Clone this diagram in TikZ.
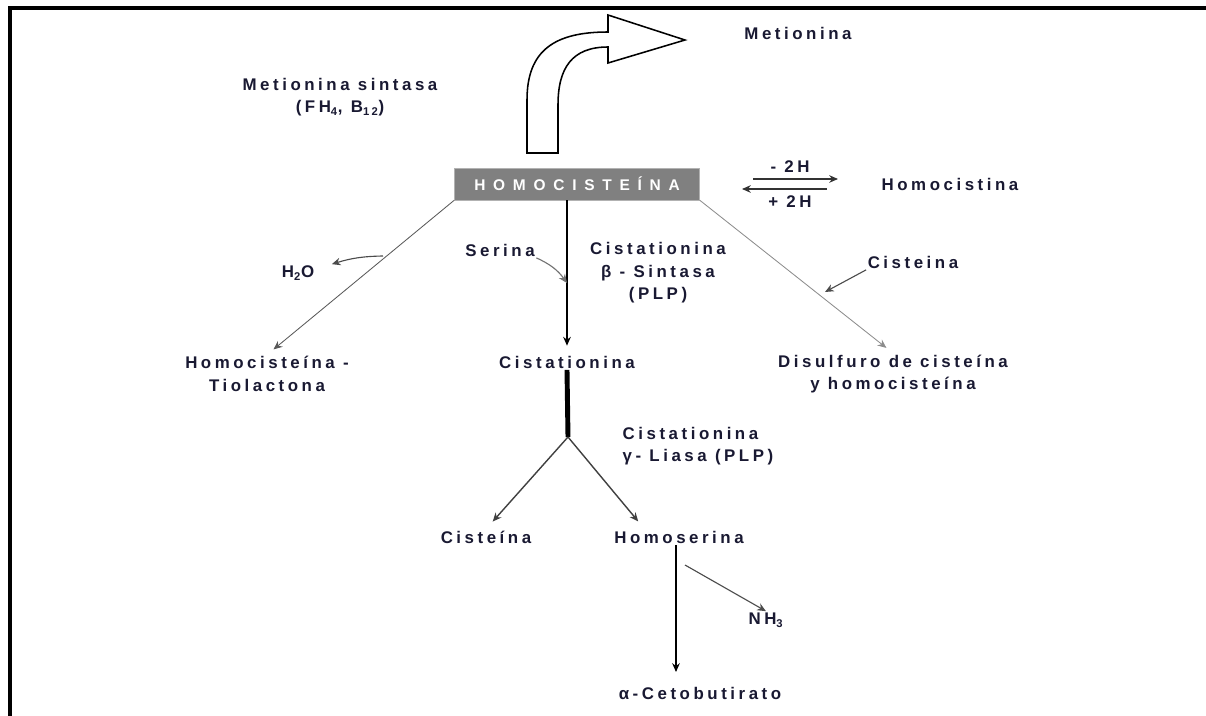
\documentclass[tikz,border=0pt]{standalone}
\usepackage{fontspec}
\setmainfont{Liberation Sans}
\newfontfamily\sprfont{Liberation Sans}[LetterSpace=21]
\newfontfamily\boxfont{Liberation Sans}[LetterSpace=50]
\usetikzlibrary{arrows.meta}

\begin{document}
\begin{tikzpicture}[x=0.025cm,y=-0.025cm,
  lbl/.style={text=TXTdark, inner sep=1pt, align=center,
    font=\sprfont\bfseries\fontsize{12}{16}\selectfont},
  homobox/.style={fill=HCgray, draw=gray!60, minimum width=6.125cm, minimum height=0.8cm,
    inner sep=0pt, text=white, font=\boxfont\bfseries\fontsize{11}{12}\selectfont},
  tip/.style={-{Stealth[length=2.2mm,width=1.9mm]}},
  thinarr/.style={tip, draw=black!65, line width=0.6pt},
  sidearr/.style={tip, draw=black!70, line width=0.8pt},
  mainarr/.style={tip, draw=black, line width=1.4pt},
  forkarr/.style={tip, draw=black!75, line width=1pt}]
\definecolor{TXTdark}{RGB}{25,25,50}
\definecolor{HCgray}{RGB}{128,128,128}

\useasboundingbox (0,0) rectangle (1206,716);
\draw[line width=0.1cm] (10,716) -- (10,8.5) -- (1206,8.5);

% ======================= OBEN: HOMOCISTEINA / METIONINA =======================
\node[homobox] (homo) at (577,184) {HOMOCISTEÍNA};
\node[lbl] (metio) at (798,33) {Metionina};
\node[lbl] (msint) at (340,97) {Metionina sintasa\\(FH\textsubscript{4}, B\textsubscript{12})};
\node[lbl] (hcist) at (950,184) {Homocistina};

% Hohlpfeil zur Metionina
\draw[line width=1.1pt, fill=white]
  (527,153) -- (527,100) .. controls (527,50) and (555,32) .. (608,32)
  -- (608,15) -- (685,40) -- (608,63) -- (608,47)
  .. controls (572,47) and (558,68) .. (558,105) -- (558,153) -- cycle;

% Gleichgewicht
\coordinate (eqa) at (753,179);
\coordinate (eqb) at (838,179);
\coordinate (eqc) at (827,189);
\coordinate (eqd) at (742,189);
\draw[tip, line width=1pt, black!80] (eqa) -- (eqb);
\draw[tip, line width=1pt, black!80] (eqc) -- (eqd);
\node[lbl] (minus) at (790,167) {- 2H};
\node[lbl] (plus) at (790,202) {+ 2H};

% ======================= MITTE: DREI WEGE =======================
\node[lbl] (tiol) at (267,374) {Homocisteína -\\Tiolactona};
\node[lbl] (cist) at (567,362) {Cistationina};
\node[lbl] (disulf) at (893,374) {Disulfuro de cisteína\\y homocisteína};

\draw[thinarr, shorten >=6pt] (homo.south west) -- (tiol.north);
\draw[mainarr, shorten >=6pt] (homo.south -| cist.north) -- (cist.north);
\draw[thinarr, draw=black!45, shorten >=6pt] (homo.south east) -- (disulf.north);

% Nebenpfeile
\node[lbl] (h2o) at (298,273) {H\textsubscript{2}O};
\node[lbl] (serina) at (500,250) {Serina};
\node[lbl] (cysin) at (913,262) {Cisteina};
\node[lbl] (cbs) at (658,273) {Cistationina\\β - Sintasa\\(PLP)};

\coordinate (h2oout) at (383,256);
\coordinate (serin) at (567,283);
\coordinate (cysend) at (825,292);
\draw[sidearr] (h2oout) to[bend right=8] ([xshift=0.4cm]h2o.north east);
\draw[sidearr, draw=black!55] (serina.south east) to[bend left=15] (serin);
\draw[sidearr] (cysin.south west) -- (cysend);

% ======================= UNTEN: SPALTUNG =======================
\coordinate (fork) at (568,437);
\draw[line width=3.5pt] (cist.south) -- (fork);
\node[lbl, align=left, anchor=west] (cgl) at (621,446) {Cistationina\\γ- Liasa (PLP)};

\node[lbl] (cys) at (486,537) {Cisteína};
\node[lbl] (hser) at (679,537) {Homoserina};
\draw[forkarr, shorten >=0.25cm] (fork) -- (cys.north);
\draw[forkarr, shorten >=0.25cm] (fork) -- ([xshift=0.8cm]hser.north west);

\node[lbl] (nh3) at (766,620) {NH\textsubscript{3}};
\node[lbl] (ceto) at (700,693) {α-Cetobutirato};
\coordinate (nhstart) at (685,565);
\draw[mainarr, line width=1pt] (hser.south -| 676,0) -- (676,672);
\draw[sidearr] (nhstart) -- (nh3.north);

\end{tikzpicture}
\end{document}
